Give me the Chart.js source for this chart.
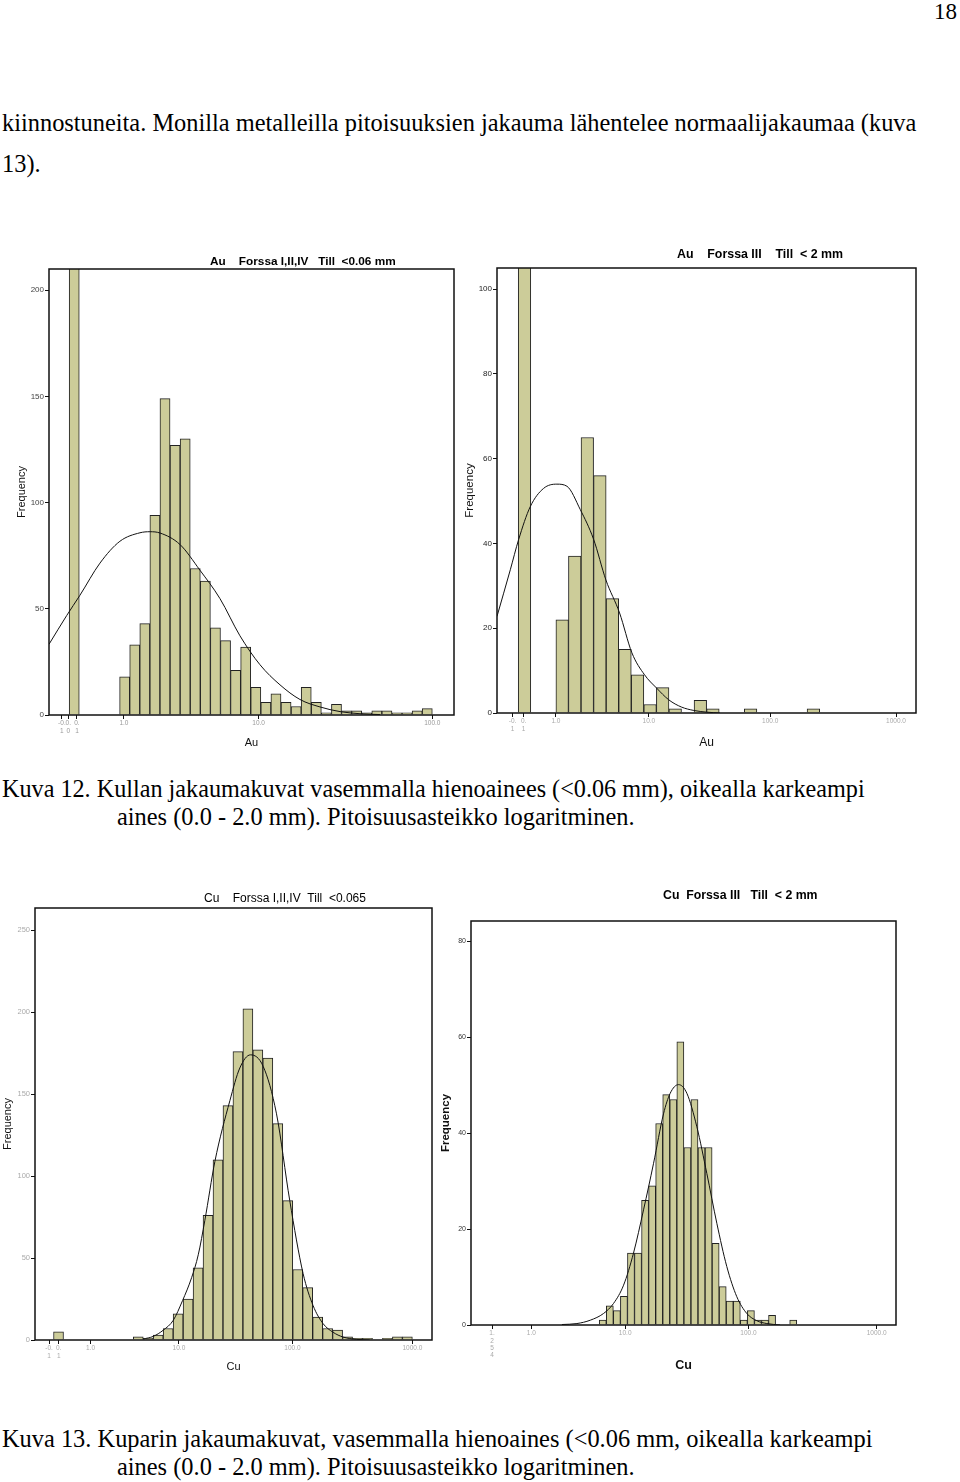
<!DOCTYPE html>
<html>
<head>
<meta charset="utf-8">
<script src="https://cdn.jsdelivr.net/npm/chart.js@4.4.1/dist/chart.umd.min.js"></script>
<style>
  body { margin: 0; background: #fff; width: 960px; height: 1482px; position: relative; overflow: hidden;
         font-family: "Liberation Serif", "Times New Roman", serif; color: #000; }
  .t { position: absolute; font-size: 24.4px; line-height: 28px; white-space: nowrap; }
  canvas { position: absolute; }
</style>
</head>
<body>
<div class="t" style="right:3px; top:-2px; font-size:23px;">18</div>
<div class="t" style="left:2px; top:109px;">kiinnostuneita. Monilla metalleilla pitoisuuksien jakauma lähentelee normaalijakaumaa (kuva</div>
<div class="t" style="left:2px; top:150px;">13).</div>

<canvas id="au-fine" width="460" height="525" style="left:0; top:240px;"></canvas>
<canvas id="au-coarse" width="480" height="525" style="left:460px; top:240px;"></canvas>

<div class="t" style="left:2px; top:775px; font-size:24.2px;">Kuva 12. Kullan jakaumakuvat vasemmalla hienoainees (&lt;0.06 mm), oikealla karkeampi</div>
<div class="t" style="left:117px; top:803px;">aines (0.0 - 2.0 mm). Pitoisuusasteikko logaritminen.</div>

<canvas id="cu-fine" width="440" height="500" style="left:0; top:880px;"></canvas>
<canvas id="cu-coarse" width="480" height="500" style="left:440px; top:880px;"></canvas>

<div class="t" style="left:2px; top:1425px;">Kuva 13. Kuparin jakaumakuvat, vasemmalla hienoaines (&lt;0.06 mm, oikealla karkeampi</div>
<div class="t" style="left:117px; top:1453px;">aines (0.0 - 2.0 mm). Pitoisuusasteikko logaritminen.</div>

<script>
// Four SPSS-style histograms (log concentration axis) with fitted normal curves.
// x values are in bin units: bin i covers [i, i+1].

// --- Au, Forssa I,II,IV, till < 0.06 mm ---
const auFineFirstBin = -5;
const auFineCounts = [330, 0, 0, 0, 0,
  18, 33, 43, 94, 149, 127, 130, 69, 63, 41, 35, 21, 32, 13, 6, 10,
  6, 4, 13, 6, 1, 5, 2, 2, 1, 2, 2, 1, 1, 2, 3];
const auFineCurveX = [-7.0, -5.25, -3.93, -1.95, 0.03, 2.02, 3.01, 4.0, 5.98, 7.96, 9.95,
  11.93, 13.91, 15.9, 17.88, 19.86, 21.85, 23.83, 25.81];
const auFineCurveY = [33.3, 46.8, 56.4, 71.5, 81.8, 85.8, 86.3, 85.7, 80.3, 68.2, 54.8,
  37.3, 23.7, 14.2, 7.3, 3.8, 1.6, 0.6, 0.2];
const auFineTickPos = [-5.72, -5.09, -4.23, 0.43, 13.78, 31.0];
const auFineTickLabels = [['-0.', '1'], ['0.', '0'], ['0.', '1'], '1.0', '10.0', '100.0'];
const auFineYTicks = [0, 50, 100, 150, 200];

// --- Au, Forssa III, till < 2 mm ---
const auCoarseFirstBin = -3;
const auCoarseCounts = [150, 0, 0,
  22, 37, 65, 56, 27, 15, 9, 2, 6, 1, 0, 3, 1, 0, 0, 1, 0, 0, 0, 0, 1];
const auCoarseCurveX = [-4.69, -3.63, -2.97, -2.04, -0.98, 0.08, 0.88, 1.94, 3.0, 3.98,
  5.07, 6.05, 7.06, 8.01, 8.99, 10.0, 10.98, 12.0, 13.06];
const auCoarseCurveY = [22.8, 33.8, 40.9, 48.7, 53, 54, 53.5, 48, 41, 31.4,
  23.6, 14.2, 9.0, 5.9, 3.1, 1.4, 0.6, 0.2, 0];
const auCoarseTickPos = [-3.45, -2.57, 0, 7.4, 17.06, 27.08];
const auCoarseTickLabels = [['-0.', '1'], ['0.', '1'], '1.0', '10.0', '100.0', '1000.0'];
const auCoarseYTicks = [0, 20, 40, 60, 80, 100];

// --- Cu, Forssa I,II,IV, till < 0.065 ---
const cuFineFirstBin = -8;
const cuFineCounts = [5, 0, 0, 0, 0, 0, 0, 0,
  2, 1, 3, 7, 16, 25, 44, 76, 110, 143, 176, 202, 177, 172, 132, 85,
  43, 32, 14, 7, 6, 2, 1, 1, 0, 1, 2, 2];
const cuFineCurveX = [1.0, 2.0, 3.01, 4.01, 4.94, 5.85, 6.52, 7.18, 8.19, 9.69, 10.69,
  11.76, 13.03, 14.37, 15.7, 17.04, 18.04, 19.04, 20.05, 21.05, 22.39, 23.72];
const cuFineCurveY = [0.6, 2.2, 6, 12, 24, 38, 52, 73, 109, 146, 166,
  174, 167, 138, 85, 40.5, 21, 10, 4.7, 1.8, 0.4, 0];
const cuFineTickPos = [-8.45, -7.48, -4.28, 4.58, 15.97, 28.0];
const cuFineTickLabels = [['-0.', '1'], ['0.', '1'], '1.0', '10.0', '100.0', '1000.0'];
const cuFineYTicks = [0, 50, 100, 150, 200, 250];

// --- Cu, Forssa III, till < 2 mm ---
const cuCoarseFirstBin = 0;
const cuCoarseCounts = [1, 4, 3, 6, 15, 15, 26, 29, 42, 48, 47, 59, 37, 47, 37, 37,
  17, 8, 5, 5, 1, 3, 1, 1, 2, 0, 0, 1];
const cuCoarseCurveX = [-5.29, -3.16, -1.27, 0.61, 2.03, 3.45, 4.86, 6.28, 7.7, 9.11, 10.06,
  11.24, 12.42, 13.84, 15.25, 16.67, 18.08, 19.5, 20.92, 22.33, 23.75, 25.64];
const cuCoarseCurveY = [0.1, 0.3, 1, 2.4, 4.5, 8.3, 15, 24, 33.7, 44, 48.3,
  50.1, 48.3, 41.3, 31.6, 21.2, 12.2, 5.9, 2.4, 0.9, 0.3, 0];
const cuCoarseTickPos = [-15.2, -9.63, 3.68, 21.15, 39.33];
const cuCoarseTickLabels = [['1.', '2', '5', '4'], '1.0', '10.0', '100.0', '1000.0'];
const cuCoarseYTicks = [0, 20, 40, 60, 80];

const SANS = '"Liberation Sans", Arial, sans-serif';

// title text drawn at a fixed spot above the plot box
const panelTitle = {
  id: 'panelTitle',
  afterDraw(chart, args, o) {
    const ctx = chart.ctx;
    ctx.save();
    ctx.font = o.font;
    ctx.fillStyle = '#000';
    ctx.textAlign = 'left';
    ctx.textBaseline = 'middle';
    ctx.fillText(o.text, o.x, o.y);
    ctx.restore();
  }
};

// closed box round the plot area
const plotFrame = {
  id: 'plotFrame',
  afterDatasetsDraw(chart) {
    const a = chart.chartArea;
    const ctx = chart.ctx;
    ctx.save();
    ctx.strokeStyle = '#111';
    ctx.lineWidth = 1.5;
    ctx.strokeRect(a.left, a.top, a.right - a.left, a.bottom - a.top);
    ctx.restore();
  }
};

function histogram(id, d, s) {
  // s.canvas = [left, top, width, height], s.plot = [left, top, right, bottom], page px
  const [cl, ct, cw, ch] = s.canvas;
  const [pl, pt, pr, pb] = s.plot;
  const yLh = s.yTitleFont.size * 1.2;
  const xLh = s.xTitleFont.size * 1.2;
  const padLeft = s.yTitleX - yLh / 2 - cl;
  const yWidth = pl - cl - padLeft;
  const xBottom = s.xTitleY + xLh / 2;
  const xHeight = xBottom - pb;

  const bars = d.counts
    .map((c, i) => ({ x: d.firstBin + i + 0.5, y: c }))
    .filter(p => p.y > 0);
  const curve = d.curveX.map((x, i) => ({ x: x, y: d.curveY[i] }));

  new Chart(document.getElementById(id), {
    type: 'bar',
    data: {
      datasets: [
        {
          type: 'line',
          data: curve,
          borderColor: '#111',
          borderWidth: 1,
          pointRadius: 0,
          cubicInterpolationMode: 'monotone',
          fill: false,
          order: 0
        },
        {
          data: bars,
          backgroundColor: '#cccc99',
          borderColor: '#222',
          borderWidth: 1,
          barPercentage: 1,
          categoryPercentage: 1,
          order: 1
        }
      ]
    },
    options: {
      responsive: false,
      animation: false,
      events: [],
      layout: { padding: { left: padLeft, top: pt - ct, right: cl + cw - pr, bottom: ct + ch - xBottom } },
      plugins: {
        legend: { display: false },
        tooltip: { enabled: false },
        panelTitle: { text: s.title, font: s.titleFont, x: s.titleX - cl, y: s.titleY - ct }
      },
      scales: {
        x: {
          type: 'linear', display: false, offset: false, min: s.xMin, max: s.xMax,
          grid: { offset: false },
          afterBuildTicks: a => { a.ticks = [{ value: s.xMin }, { value: s.xMax }]; }
        },
        xt: {
          type: 'linear', position: 'bottom', offset: false, min: s.xMin, max: s.xMax,
          afterBuildTicks: a => { a.ticks = d.tickPos.map(v => ({ value: v })); },
          afterFit: a => { a.height = xHeight; },
          ticks: {
            autoSkip: false, maxRotation: 0, padding: 1,
            font: { family: SANS, size: 6.5, lineHeight: 1.1 },
            color: s.xTickColor,
            callback: (v, i) => d.tickLabels[i]
          },
          grid: { offset: false, drawOnChartArea: false, tickLength: 4, color: '#111' },
          border: { display: false },
          title: { display: true, text: s.xTitle, font: s.xTitleFont, color: '#111', padding: 0 }
        },
        y: {
          type: 'linear', min: 0, max: s.yMax,
          afterBuildTicks: a => { a.ticks = d.yTicks.map(v => ({ value: v })); },
          afterFit: a => { a.width = yWidth; },
          ticks: { padding: 1, font: { family: SANS, size: s.yTickSize }, color: s.yTickColor },
          grid: { drawOnChartArea: false, tickLength: 4, color: '#111' },
          border: { display: false },
          title: { display: true, text: 'Frequency', font: s.yTitleFont, color: '#111', padding: 0 }
        }
      }
    },
    plugins: [panelTitle, plotFrame]
  });
}

document.addEventListener('DOMContentLoaded', function () {
  histogram('au-fine', {
    firstBin: auFineFirstBin, counts: auFineCounts,
    curveX: auFineCurveX, curveY: auFineCurveY,
    tickPos: auFineTickPos, tickLabels: auFineTickLabels, yTicks: auFineYTicks
  }, {
    canvas: [0, 240, 460, 525], plot: [49, 269, 454, 715],
    xMin: -7.0, xMax: 33.15, yMax: 210,
    title: 'Au    Forssa I,II,IV   Till  <0.06 mm', titleFont: 'bold 11.8px ' + SANS, titleX: 210, titleY: 262,
    yTitleX: 22, yTitleFont: { family: SANS, size: 11 },
    xTitle: 'Au', xTitleY: 743, xTitleFont: { family: SANS, size: 11 },
    xTickColor: '#999', yTickColor: '#444', yTickSize: 8
  });

  histogram('au-coarse', {
    firstBin: auCoarseFirstBin, counts: auCoarseCounts,
    curveX: auCoarseCurveX, curveY: auCoarseCurveY,
    tickPos: auCoarseTickPos, tickLabels: auCoarseTickLabels, yTicks: auCoarseYTicks
  }, {
    canvas: [460, 240, 480, 525], plot: [497, 268, 916, 713],
    xMin: -4.69, xMax: 28.67, yMax: 105,
    title: 'Au    Forssa III    Till  < 2 mm', titleFont: 'bold 12.4px ' + SANS, titleX: 677, titleY: 255,
    yTitleX: 470, yTitleFont: { family: SANS, size: 11.5 },
    xTitle: 'Au', xTitleY: 743, xTitleFont: { family: SANS, size: 12 },
    xTickColor: '#aaa', yTickColor: '#222', yTickSize: 8
  });

  histogram('cu-fine', {
    firstBin: cuFineFirstBin, counts: cuFineCounts,
    curveX: cuFineCurveX, curveY: cuFineCurveY,
    tickPos: cuFineTickPos, tickLabels: cuFineTickLabels, yTicks: cuFineYTicks
  }, {
    canvas: [0, 880, 440, 500], plot: [35, 908, 432, 1340],
    xMin: -9.86, xMax: 29.97, yMax: 263.6,
    title: 'Cu    Forssa I,II,IV  Till  <0.065', titleFont: '12px ' + SANS, titleX: 204, titleY: 899,
    yTitleX: 8, yTitleFont: { family: SANS, size: 11 },
    xTitle: 'Cu', xTitleY: 1367, xTitleFont: { family: SANS, size: 11 },
    xTickColor: '#aaa', yTickColor: '#aaa', yTickSize: 7.5
  });

  histogram('cu-coarse', {
    firstBin: cuCoarseFirstBin, counts: cuCoarseCounts,
    curveX: cuCoarseCurveX, curveY: cuCoarseCurveY,
    tickPos: cuCoarseTickPos, tickLabels: cuCoarseTickLabels, yTicks: cuCoarseYTicks
  }, {
    canvas: [440, 880, 480, 500], plot: [471, 921, 896, 1325],
    xMin: -18.18, xMax: 42.07, yMax: 84.2,
    title: 'Cu  Forssa III   Till  < 2 mm', titleFont: 'bold 12.3px ' + SANS, titleX: 663, titleY: 896,
    yTitleX: 446, yTitleFont: { family: SANS, size: 11.5, weight: 'bold' },
    xTitle: 'Cu', xTitleY: 1366, xTitleFont: { family: SANS, size: 12.5, weight: 'bold' },
    xTickColor: '#aaa', yTickColor: '#333', yTickSize: 7
  });
});
</script>
</body>
</html>
